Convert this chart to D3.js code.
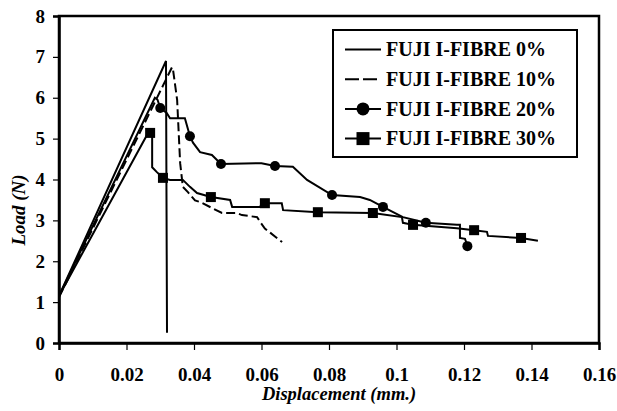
<!DOCTYPE html>
<html>
<head>
<meta charset="utf-8">
<script src="https://cdn.jsdelivr.net/npm/d3@7"></script>
<style>
  body { margin: 0; background: #fff; }
  svg { display: block; }
  text { font-family: "Liberation Serif", "Times New Roman", serif; font-weight: bold; }
</style>
</head>
<body>
<svg id="chart" width="617" height="411"></svg>
<script>
// axis ticks
const xTicks = [0, 0.02, 0.04, 0.06, 0.08, 0.1, 0.12, 0.14, 0.16];
const xTickLabels = ["0", "0.02", "0.04", "0.06", "0.08", "0.1", "0.12", "0.14", "0.16"];
const yTicks = [0, 1, 2, 3, 4, 5, 6, 7, 8];

// FUJI I-FIBRE 0%
const disp0 = [0, 0.0317, 0.032];
const load0 = [1.15, 6.9, 0.25];

// FUJI I-FIBRE 10%
const disp10 = [0, 0.0335, 0.0338, 0.035, 0.0359, 0.0367, 0.0382, 0.0403, 0.0418, 0.0483, 0.0527, 0.0542, 0.0587, 0.0596, 0.061, 0.0661];
const load10 = [1.12, 6.75, 6.68, 5.95, 4.4, 3.82, 3.69, 3.49, 3.45, 3.18, 3.18, 3.13, 3.08, 2.96, 2.8, 2.47];

// FUJI I-FIBRE 20%
const disp20 = [0, 0.0284, 0.0292, 0.030, 0.0319, 0.0329, 0.0373, 0.0388, 0.0397, 0.0418, 0.0453, 0.048, 0.060, 0.064, 0.0693, 0.0735, 0.0809, 0.0892, 0.0921, 0.096, 0.099, 0.1019, 0.1087, 0.1179, 0.1188, 0.1188, 0.1203, 0.121];
const load20 = [1.15, 6.0, 5.95, 5.75, 5.63, 5.5, 5.5, 5.06, 4.9, 4.67, 4.6, 4.38, 4.4, 4.33, 4.31, 3.99, 3.62, 3.57, 3.5, 3.33, 3.2, 3.08, 2.94, 2.89, 2.89, 2.57, 2.55, 2.37];
const mark20Disp = [0.030, 0.0388, 0.048, 0.064, 0.0809, 0.096, 0.1087, 0.121];
const mark20Load = [5.75, 5.06, 4.38, 4.33, 3.62, 3.33, 2.94, 2.37];

// FUJI I-FIBRE 30%
const disp30 = [0, 0.0268, 0.027, 0.0276, 0.0276, 0.029, 0.0308, 0.0329, 0.0367, 0.0388, 0.0409, 0.045, 0.0507, 0.0513, 0.0596, 0.0601, 0.061, 0.066, 0.0664, 0.0767, 0.093, 0.1016, 0.1019, 0.1049, 0.1179, 0.123, 0.1268, 0.1271, 0.1369, 0.1419];
const load30 = [1.15, 5.2, 5.14, 5.04, 4.3, 4.18, 4.04, 3.99, 3.99, 3.82, 3.67, 3.57, 3.5, 3.33, 3.33, 3.42, 3.42, 3.42, 3.25, 3.2, 3.18, 3.08, 2.94, 2.89, 2.81, 2.76, 2.72, 2.62, 2.57, 2.5];
const mark30Disp = [0.027, 0.0308, 0.045, 0.061, 0.0767, 0.093, 0.1049, 0.123, 0.1369];
const mark30Load = [5.14, 4.04, 3.57, 3.42, 3.2, 3.18, 2.89, 2.76, 2.57];

const legendLabels = ["FUJI I-FIBRE 0%", "FUJI I-FIBRE 10%", "FUJI I-FIBRE 20%", "FUJI I-FIBRE 30%"];

const svg = d3.select("#chart");
const margin = { top: 16, right: 18, bottom: 68, left: 59 };
const w = 617, h = 411;

const x = d3.scaleLinear().domain([0, 0.16]).range([margin.left, w - margin.right]);
const y = d3.scaleLinear().domain([0, 8]).range([h - margin.bottom, margin.top]);

const zip = (a, b) => a.map((v, i) => [v, b[i]]);
const line = d3.line().x(d => x(d[0])).y(d => y(d[1]));

// frame
svg.append("rect")
  .attr("x", x(0)).attr("y", y(8))
  .attr("width", x(0.16) - x(0)).attr("height", y(0) - y(8))
  .attr("fill", "none").attr("stroke", "#000").attr("stroke-width", 2.5);

// axes
const xAxis = d3.axisBottom(x).tickValues(xTicks)
  .tickFormat((d, i) => xTickLabels[i]).tickSize(7).tickPadding(18);
const yAxis = d3.axisLeft(y).tickValues(yTicks).tickSize(6).tickPadding(8);

const gx = svg.append("g").attr("transform", `translate(0,${y(0)})`).call(xAxis);
const gy = svg.append("g").attr("transform", `translate(${x(0)},0)`).call(yAxis);
[gx, gy].forEach(g => {
  g.select(".domain").attr("stroke-width", 2.5);
  g.selectAll(".tick line").attr("stroke-width", 1.2);
  g.selectAll(".tick text").attr("font-size", 19)
    .attr("font-family", "Liberation Serif, serif").attr("font-weight", "bold").attr("fill", "#000");
});

// series lines
svg.append("path").datum(zip(disp0, load0)).attr("d", line)
  .attr("fill", "none").attr("stroke", "#000").attr("stroke-width", 2);
svg.append("path").datum(zip(disp10, load10)).attr("d", line)
  .attr("fill", "none").attr("stroke", "#000").attr("stroke-width", 2).attr("stroke-dasharray", "9,4");
svg.append("path").datum(zip(disp20, load20)).attr("d", line)
  .attr("fill", "none").attr("stroke", "#000").attr("stroke-width", 2);
svg.append("path").datum(zip(disp30, load30)).attr("d", line)
  .attr("fill", "none").attr("stroke", "#000").attr("stroke-width", 2);

// markers
svg.append("g").selectAll("circle").data(zip(mark20Disp, mark20Load)).enter()
  .append("circle").attr("cx", d => x(d[0])).attr("cy", d => y(d[1])).attr("r", 5).attr("fill", "#000");
svg.append("g").selectAll("rect").data(zip(mark30Disp, mark30Load)).enter()
  .append("rect").attr("x", d => x(d[0]) - 5).attr("y", d => y(d[1]) - 5)
  .attr("width", 10).attr("height", 10).attr("fill", "#000");

// axis titles
svg.append("text").attr("x", 339).attr("y", 400).attr("text-anchor", "middle")
  .attr("font-size", 18.5).attr("font-style", "italic").text("Displacement (mm.)");
svg.append("text").attr("transform", "translate(25,210) rotate(-90)").attr("text-anchor", "middle")
  .attr("font-size", 19).attr("font-style", "italic").text("Load (N)");

// legend
const lg = svg.append("g");
lg.append("rect").attr("x", 333).attr("y", 30).attr("width", 244).attr("height", 127)
  .attr("fill", "#fff").attr("stroke", "#000").attr("stroke-width", 2);
legendLabels.forEach((lab, i) => {
  const cy = 49.5 + i * 29.7;
  const l = lg.append("line").attr("x1", 345).attr("x2", 381).attr("y1", cy).attr("y2", cy)
    .attr("stroke", "#000").attr("stroke-width", 2);
  if (i === 1) l.attr("stroke-dasharray", "14,4");
  if (i === 2) lg.append("circle").attr("cx", 363).attr("cy", cy).attr("r", 6.5).attr("fill", "#000");
  if (i === 3) lg.append("rect").attr("x", 356.5).attr("y", cy - 6.5).attr("width", 13).attr("height", 13).attr("fill", "#000");
  lg.append("text").attr("x", 386).attr("y", cy).attr("dy", "0.33em").attr("font-size", 20).text(lab);
});
</script>
</body>
</html>
